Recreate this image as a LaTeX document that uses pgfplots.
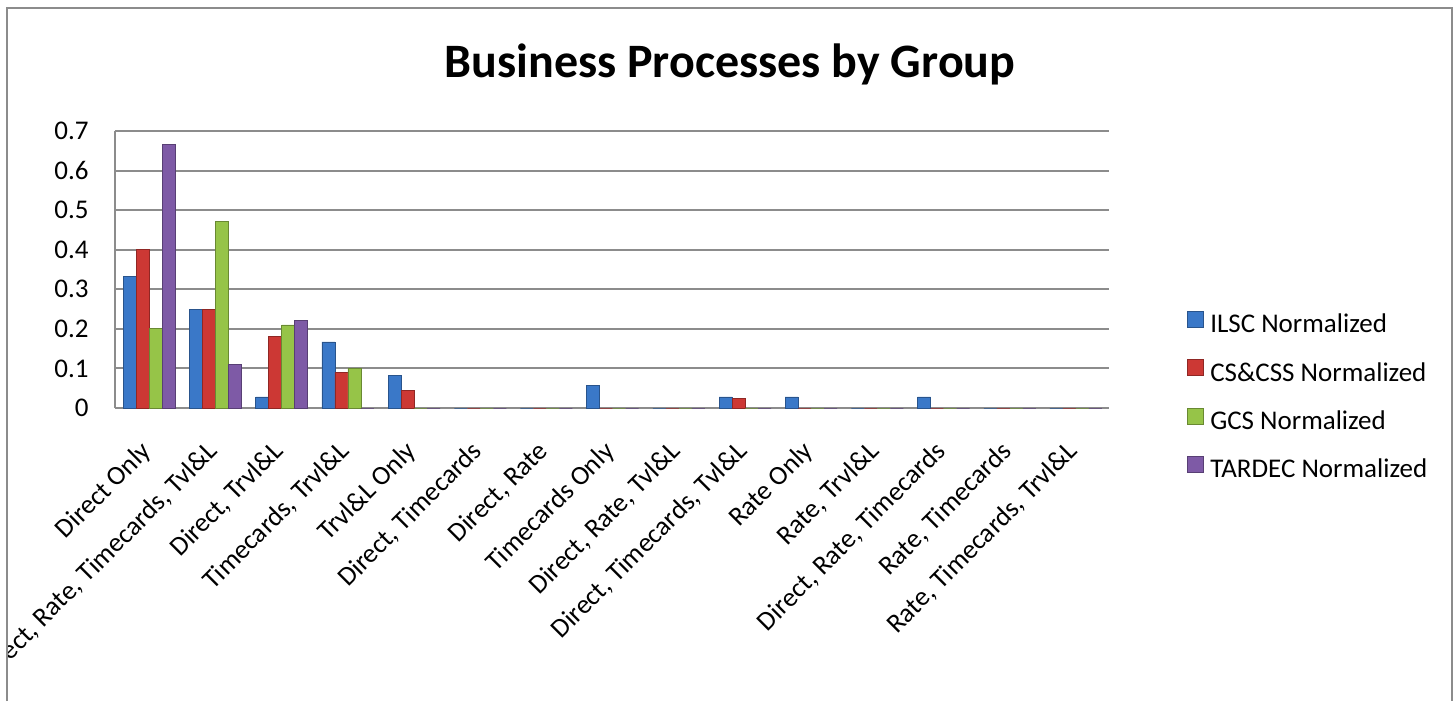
\documentclass[border=0pt]{standalone}
\usepackage{pgfplots}
\usepackage{pgfplotstable}
\pgfplotsset{compat=1.18}
\usepackage{fontspec}
\setmainfont{Carlito}
\definecolor{cA}{RGB}{58,120,200}
\definecolor{cB}{RGB}{204,56,52}
\definecolor{cC}{RGB}{150,196,72}
\definecolor{cD}{RGB}{126,90,166}
\definecolor{gridc}{RGB}{140,140,140}

\pgfplotstableread{
x ilsc css gcs tardec
0  0.333 0.400 0.200 0.667
1  0.250 0.250 0.471 0.111
2  0.028 0.180 0.210 0.222
3  0.167 0.090 0.100 0
4  0.083 0.045 0     0
5  0     0     0     0
6  0     0     0     0
7  0.056 0     0     0
8  0     0     0     0
9  0.028 0.025 0     0
10 0.028 0     0     0
11 0     0     0     0
12 0.028 0     0     0
13 0     0     0     0
14 0     0     0     0
}\datatable

\begin{document}
\begin{tikzpicture}[x=1bp,y=1bp]
\useasboundingbox (0,0) rectangle (728,350.5);
\begin{scope}
\clip (3.5,0) rectangle (726,346.5);
\begin{axis}[
  at={(57.5bp,146.5bp)}, anchor=south west,
  scale only axis, width=497bp, height=138.5bp,
  ymin=0, ymax=0.7, xmin=-0.52, xmax=14.5,
  ytick={0,0.1,0.2,0.3,0.4,0.5,0.6,0.7},
  yticklabel style={/pgf/number format/fixed, /pgf/number format/precision=1,
     /pgf/number format/assume math mode=true, inner sep=0pt, anchor=east, xshift=-13bp,
     font=\fontsize{13.5bp}{16bp}\selectfont},
  ymajorgrids, grid style={draw=gridc, line width=1bp},
  major tick length=0pt,
  axis lines=left,
  axis line style={-, draw=gridc, line width=1bp},
  xtick={0,...,14},
  xticklabels={{Direct Only},{Direct, Rate, Timecards, Tvl\&L},{Direct, Trvl\&L},{Timecards, Trvl\&L},{Trvl\&L Only},{Direct, Timecards},{Direct, Rate},{Timecards Only},{Direct, Rate, Tvl\&L},{Direct, Timecards, Tvl\&L},{Rate Only},{Rate, Trvl\&L},{Direct, Rate, Timecards},{Rate, Timecards},{Rate, Timecards, Trvl\&L}},
  xticklabel style={rotate=45, anchor=north east, inner sep=0pt, yshift=-7.4bp, xshift=-14.6bp,
     font=\fontsize{13.5bp}{16bp}\selectfont},
  ybar=0pt, bar width=6.5bp,
  legend style={draw=none, fill=none, at={(1.0785,0.038)}, anchor=west, inner sep=0pt,
     row sep=10.2bp, font=\fontsize{13.5bp}{16bp}\selectfont,
     nodes={inner sep=0pt, text height=9.5bp, text depth=3bp},
     /tikz/every odd column/.append style={column sep=3bp}},
  legend cell align=left,
  legend image code/.code={\fill[#1] (0bp,-0.5bp) rectangle (8bp,7.5bp);},
]
\addplot[fill=cA, draw=cA!70!black] table[x=x,y=ilsc]{\datatable};
\addplot[fill=cB, draw=cB!70!black] table[x=x,y=css]{\datatable};
\addplot[fill=cC, draw=cC!70!black] table[x=x,y=gcs]{\datatable};
\addplot[fill=cD, draw=cD!70!black] table[x=x,y=tardec]{\datatable};
\legend{ILSC Normalized, CS\&CSS Normalized, GCS Normalized, TARDEC Normalized}
\end{axis}
\end{scope}
\node[anchor=base, font=\fontsize{24bp}{29bp}\selectfont\bfseries] at (365,312) {Business Processes by Group};
\draw[draw=black!45, line width=1.2bp] (3.5,0) -- (3.5,346.5) -- (726,346.5) -- (726,0);
\end{tikzpicture}
\end{document}
